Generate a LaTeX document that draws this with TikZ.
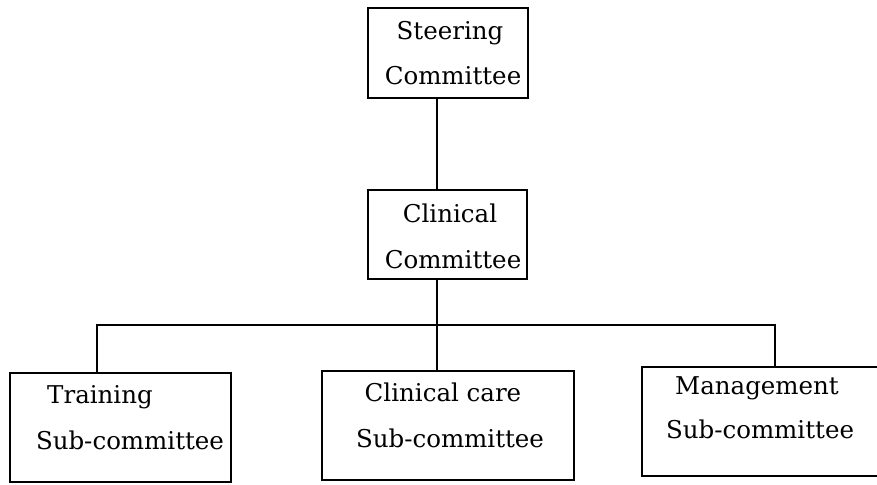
\documentclass[tikz,border=0pt]{standalone}
\usepackage{fontspec}
\setmainfont{DejaVu Serif}
\begin{document}
\begin{tikzpicture}[x=1pt,y=-1pt,
  box/.style={draw, line width=1.8pt, inner sep=0pt, outer sep=0pt},
  lbl/.style={anchor=base, inner sep=0pt, font=\fontsize{24.5}{24.5}\selectfont},
  conn/.style={line width=1.8pt}]
\useasboundingbox (0,0) rectangle (877,484);
% boxes
\node[box, minimum width=160pt, minimum height=90pt] (st) at (448,53) {};
\node[box, minimum width=159pt, minimum height=89pt] (cl) at (447.5,234.5) {};
\node[box, minimum width=221pt, minimum height=109pt] (tr) at (120.5,427.5) {};
\node[box, minimum width=252pt, minimum height=109pt] (cc) at (448,425.5) {};
\node[box, minimum width=237pt, minimum height=109pt] (mg) at (760.5,421.5) {};
% texts
\node[lbl] (st1) at (450,40) {Steering};
\node[lbl] (st2) at (453,85) {Committee};
\node[lbl] (cl1) at (450,222) {Clinical};
\node[lbl] (cl2) at (453,268) {Committee};
\node[lbl] (tr1) at (100,403) {Training};
\node[lbl] (tr2) at (130,449) {Sub-committee};
\node[lbl] (cc1) at (443,401) {Clinical care};
\node[lbl] (cc2) at (450,447) {Sub-committee};
\node[lbl] (mg1) at (757,394) {Management};
\node[lbl] (mg2) at (760,438) {Sub-committee};
% bus coordinates
\coordinate (bus) at (437,325);
\coordinate (busL) at (97,325);
\coordinate (busR) at (775,325);
% connectors
\draw[conn] (st.south -| bus) -- (cl.north -| bus);
\draw[conn] (cl.south -| bus) -- (bus);
\draw[conn] (tr.north -| busL) -- (busL) -- (busR) -- (mg.north -| busR);
\draw[conn] (bus) -- (cc.north -| bus);
\end{tikzpicture}
\end{document}
